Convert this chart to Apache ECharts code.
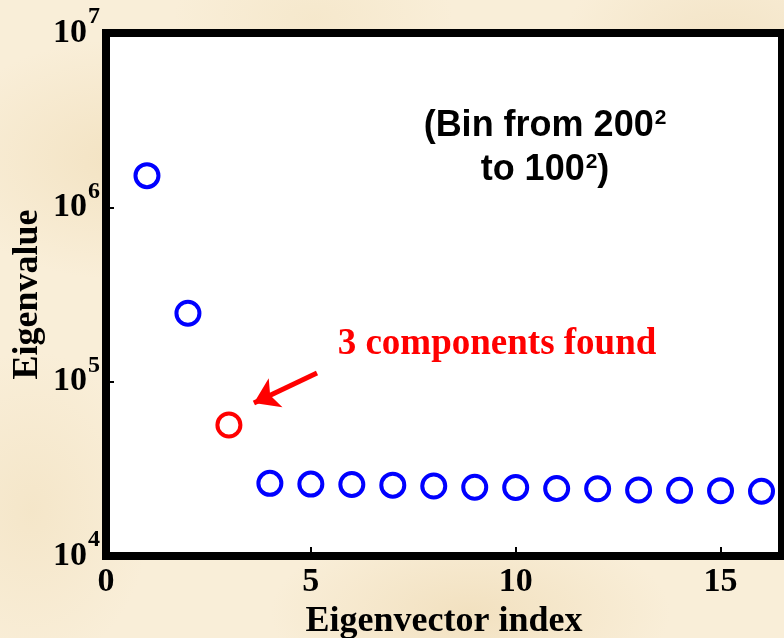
<!DOCTYPE html>
<html>
<head>
<meta charset="utf-8">
<script src="https://cdn.jsdelivr.net/npm/echarts@6/dist/echarts.min.js"></script>
<style>
  html, body { margin: 0; padding: 0; }
  body {
    width: 784px; height: 638px; overflow: hidden;
    background:
      radial-gradient(ellipse 180px 120px at 15% 25%, rgba(238,218,178,0.55), rgba(238,218,178,0) 100%),
      radial-gradient(ellipse 200px 90px at 60% 96%, rgba(236,214,172,0.55), rgba(236,214,172,0) 100%),
      radial-gradient(ellipse 160px 110px at 92% 8%, rgba(236,216,178,0.5), rgba(236,216,178,0) 100%),
      radial-gradient(ellipse 120px 160px at 4% 80%, rgba(240,222,186,0.5), rgba(240,222,186,0) 100%),
      radial-gradient(ellipse 140px 80px at 40% 3%, rgba(242,226,192,0.5), rgba(242,226,192,0) 100%),
      #f9eed8;
  }
  #chart { width: 784px; height: 638px; }
</style>
</head>
<body>
<div id="chart"></div>
<script>
// Eigenvalue spectrum: index 1..16 against eigenvalue on a log scale
const eigenIndex = [1, 2, 3, 4, 5, 6, 7, 8, 9, 10, 11, 12, 13, 14, 15, 16];
const eigenValues = [1.52e6, 2.47e5, 5.64e4, 2.61e4, 2.585e4, 2.57e4, 2.55e4, 2.52e4,
                     2.48e4, 2.47e4, 2.44e4, 2.43e4, 2.39e4, 2.38e4, 2.37e4, 2.35e4];
const componentsFound = 3;
const xTickLabels = [0, 5, 10, 15];
const yTickExponents = [4, 5, 6, 7];

const serif = '"Liberation Serif", "Times New Roman", serif';
const sans = '"Liberation Sans", Arial, sans-serif';

const points = eigenIndex.map((k, i) => {
  const item = { value: [k, eigenValues[i]] };
  if (k === componentsFound) {
    item.itemStyle = { borderColor: '#ff0000' };
  }
  return item;
});

const chart = echarts.init(document.getElementById('chart'), null, { renderer: 'canvas' });

chart.setOption({
  animation: false,
  backgroundColor: 'transparent',
  grid: {
    left: 106, right: 2, top: 33, bottom: 82,
    containLabel: false,
    outerBoundsMode: 'none',
    show: true,
    backgroundColor: '#ffffff',
    borderColor: '#000000',
    borderWidth: 8
  },
  xAxis: {
    type: 'value',
    min: 0, max: 16.5, interval: 5,
    name: 'Eigenvector index',
    nameLocation: 'middle',
    nameGap: 48,
    nameMoveOverlap: false,
    nameTextStyle: { fontFamily: serif, fontWeight: 'bold', fontSize: 36, color: '#000' },
    axisLine: { show: false },
    axisTick: { show: true, inside: true, length: 9, lineStyle: { color: '#000', width: 2 } },
    splitLine: { show: false },
    axisLabel: {
      margin: 9,
      showMaxLabel: false,
      fontFamily: serif, fontWeight: 'bold', fontSize: 34, color: '#000',
      formatter: v => (xTickLabels.indexOf(v) >= 0 ? String(v) : '')
    }
  },
  yAxis: {
    type: 'log',
    logBase: 10,
    min: 1e4, max: 1e7,
    name: 'Eigenvalue',
    nameLocation: 'middle',
    nameGap: 60,
    nameRotate: 90,
    nameMoveOverlap: false,
    nameTextStyle: { fontFamily: serif, fontWeight: 'bold', fontSize: 36, color: '#000' },
    axisLine: { show: false },
    axisTick: { show: true, inside: true, length: 8, lineStyle: { color: '#000', width: 2 } },
    minorTick: { show: false },
    splitLine: { show: false },
    axisLabel: {
      margin: 6,
      padding: [0, 0, 10, 0],
      formatter: v => {
        const e = Math.round(Math.log10(v));
        return yTickExponents.indexOf(e) >= 0 ? '{b|10}{s|' + e + '}' : '';
      },
      rich: {
        b: { fontFamily: serif, fontWeight: 'bold', fontSize: 34, height: 34, lineHeight: 44, color: '#000', verticalAlign: 'bottom' },
        s: { fontFamily: serif, fontWeight: 'bold', fontSize: 24, height: 22, color: '#000', verticalAlign: 'top', padding: [0, 0, 0, 1] }
      }
    }
  },
  series: [{
    type: 'scatter',
    data: points,
    symbol: 'circle',
    symbolSize: 23,
    itemStyle: { color: '#ffffff', borderColor: '#0000ff', borderWidth: 4, opacity: 1 },
    emphasis: { disabled: true },
    markLine: {
      silent: true,
      symbol: ['none', 'arrow'],
      symbolSize: 24,
      label: { show: false },
      lineStyle: { color: '#ff0000', width: 5, type: 'solid', opacity: 1 },
      itemStyle: { color: '#ff0000' },
      emphasis: { disabled: true },
      data: [[{ coord: [5.15, 1.12e5] }, { coord: [3.61, 7.54e4] }]]
    }
  }],
  graphic: [
    {
      type: 'text',
      x: 497, y: 344,
      style: {
        text: '3 components found',
        font: 'bold 37px ' + serif,
        fill: '#ff0000',
        align: 'center',
        verticalAlign: 'middle'
      }
    },
    {
      type: 'text',
      x: 545, y: 104,
      style: {
        text: '{a|(Bin from 200}{s|2}\n{a|to 100}{s|2}{a|)}',
        align: 'center',
        verticalAlign: 'top',
        rich: {
          a: { fontFamily: sans, fontWeight: 'bold', fontSize: 36, lineHeight: 44, fill: '#000' },
          s: { fontFamily: sans, fontWeight: 'bold', fontSize: 21, height: 28, fill: '#000', verticalAlign: 'top', padding: [0, 0, 0, 1] }
        }
      }
    }
  ]
});
</script>
</body>
</html>
